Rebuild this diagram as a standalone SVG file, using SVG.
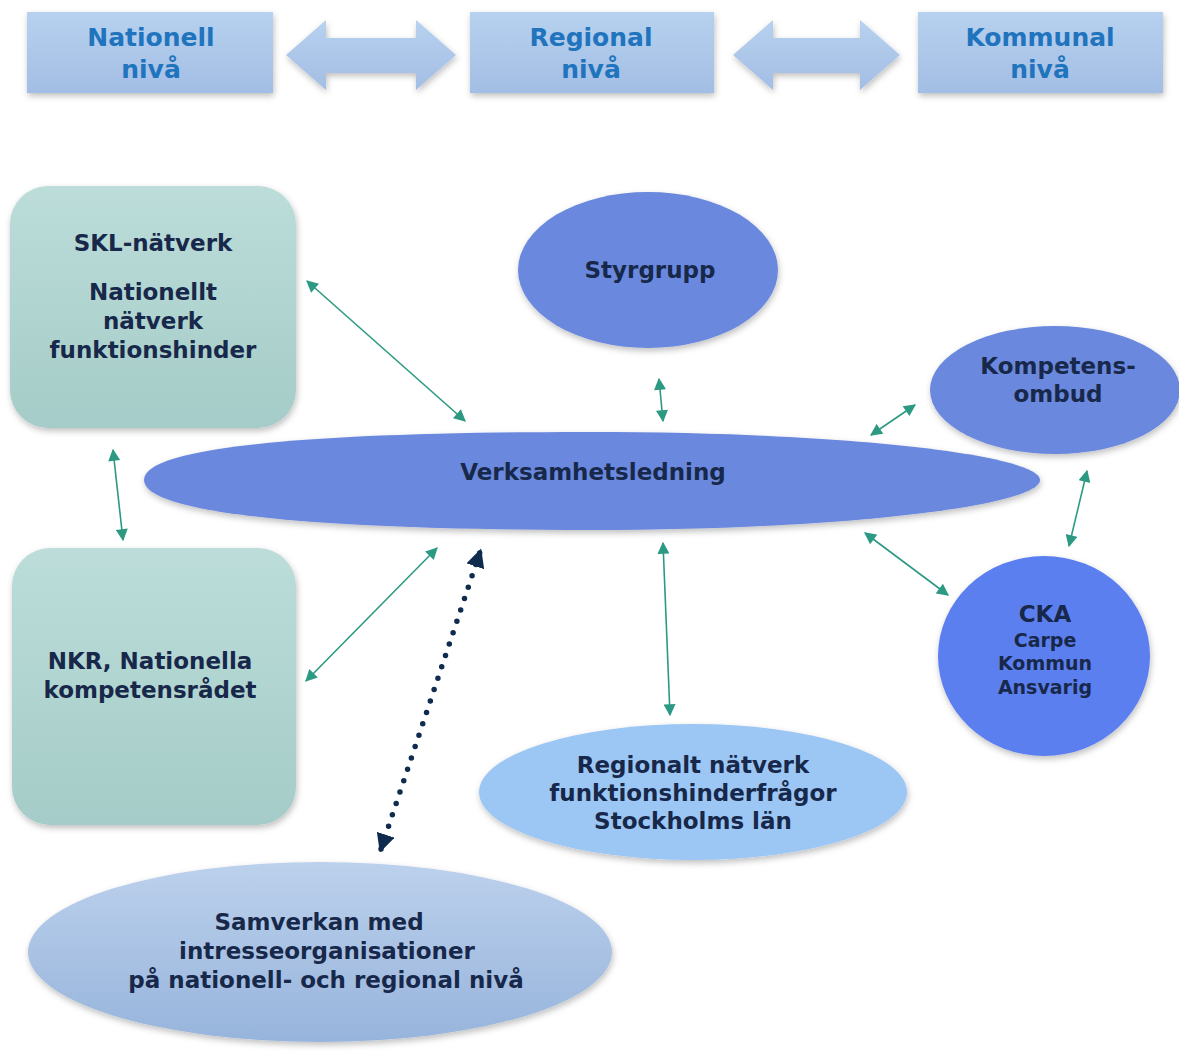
<svg xmlns="http://www.w3.org/2000/svg" width="1179" height="1051" viewBox="0 0 1179 1051">
<style>
  text { font-family: "DejaVu Sans", Verdana, sans-serif; font-weight: bold; text-anchor: middle; }
  .lvl { fill: #1f74bd; font-size: 25px; }
  .lbl { fill: #17284a; font-size: 23px; }
  .sm { fill: #17284a; font-size: 19px; }
  .con { stroke: #2c9a82; stroke-width: 1.6; fill: none; marker-start: url(#ta); marker-end: url(#ta); }
  .dot { stroke: #0f2b4d; stroke-width: 5.5; stroke-linecap: round; stroke-dasharray: 0 12; fill: none; marker-start: url(#da); marker-end: url(#da); }
</style>
<defs>
  <linearGradient id="gLvl" x1="0" y1="0" x2="0" y2="1">
    <stop offset="0" stop-color="#b7d1ef"/>
    <stop offset="1" stop-color="#a3bee4"/>
  </linearGradient>
  <linearGradient id="gTeal" x1="0" y1="0" x2="0" y2="1">
    <stop offset="0" stop-color="#bcddd9"/>
    <stop offset="1" stop-color="#a5ccc8"/>
  </linearGradient>
  <linearGradient id="gSam" x1="0" y1="0" x2="0" y2="1">
    <stop offset="0" stop-color="#bcd1ec"/>
    <stop offset="1" stop-color="#97b4dc"/>
  </linearGradient>
  <filter id="sh" x="-20%" y="-20%" width="140%" height="150%">
    <feDropShadow dx="1" dy="3" stdDeviation="3" flood-color="#000" flood-opacity="0.25"/>
  </filter>
  <marker id="ta" viewBox="0 0 10 10" refX="9" refY="5" markerWidth="13" markerHeight="12" markerUnits="userSpaceOnUse" orient="auto-start-reverse">
    <path d="M0,0 L10,5 L0,10 z" fill="#2c9a82"/>
  </marker>
  <marker id="da" viewBox="0 0 10 10" refX="8" refY="5" markerWidth="3.4" markerHeight="3.4" orient="auto-start-reverse">
    <path d="M0,0 L10,5 L0,10 z" fill="#0f2b4d"/>
  </marker>
</defs>

<g id="level-nationell">
  <rect x="27" y="12" width="246" height="81" fill="url(#gLvl)" filter="url(#sh)"/>
  <text class="lvl" x="151" y="46">Nationell</text>
  <text class="lvl" x="151" y="78">nivå</text>
</g>
<g id="level-regional">
  <rect x="470" y="12" width="244" height="81" fill="url(#gLvl)" filter="url(#sh)"/>
  <text class="lvl" x="591" y="46">Regional</text>
  <text class="lvl" x="591" y="78">nivå</text>
</g>
<g id="level-kommunal">
  <rect x="918" y="12" width="245" height="81" fill="url(#gLvl)" filter="url(#sh)"/>
  <text class="lvl" x="1040" y="46">Kommunal</text>
  <text class="lvl" x="1040" y="78">nivå</text>
</g>
<g id="level-arrows" fill="url(#gLvl)" filter="url(#sh)">
  <path d="M286,55 L326,20 L326,38 L416,38 L416,20 L456,55 L416,90 L416,73 L326,73 L326,90 Z"/>
  <path d="M733,55 L773,20 L773,38 L860,38 L860,20 L900,55 L860,90 L860,73 L773,73 L773,90 Z"/>
</g>

<g id="skl">
  <rect x="10" y="186" width="286" height="242" rx="38" fill="url(#gTeal)" filter="url(#sh)"/>
  <text class="lbl" x="153" y="251">SKL-nätverk</text>
  <text class="lbl" x="153" y="300">Nationellt</text>
  <text class="lbl" x="153" y="329">nätverk</text>
  <text class="lbl" x="153" y="358">funktionshinder</text>
</g>
<g id="nkr">
  <rect x="12" y="548" width="284" height="277" rx="38" fill="url(#gTeal)" filter="url(#sh)"/>
  <text class="lbl" x="150" y="669">NKR, Nationella</text>
  <text class="lbl" x="150" y="698">kompetensrådet</text>
</g>
<g id="styrgrupp">
  <ellipse cx="648" cy="270" rx="130" ry="78" fill="#6b88dd" filter="url(#sh)"/>
  <text class="lbl" x="650" y="278">Styrgrupp</text>
</g>
<g id="verksamhetsledning">
  <path d="M144,480 C144,445 330,432 590,432 C850,432 1040,455 1040,480 C1040,505 850,530 590,530 C330,530 144,515 144,480 Z" fill="#6b88dd" filter="url(#sh)"/>
  <text class="lbl" x="593" y="480">Verksamhetsledning</text>
</g>
<g id="kompetensombud">
  <ellipse cx="1055" cy="390" rx="125" ry="64" fill="#6b88dd" filter="url(#sh)"/>
  <text class="lbl" x="1058" y="374">Kompetens-</text>
  <text class="lbl" x="1058" y="402">ombud</text>
</g>
<g id="cka">
  <ellipse cx="1044" cy="656" rx="106" ry="100" fill="#5b7ff0" filter="url(#sh)"/>
  <text class="lbl" x="1045" y="622">CKA</text>
  <text class="sm" x="1045" y="647">Carpe</text>
  <text class="sm" x="1045" y="670">Kommun</text>
  <text class="sm" x="1045" y="694">Ansvarig</text>
</g>
<g id="regionalt">
  <ellipse cx="693" cy="792" rx="214" ry="68" fill="#9cc7f4" filter="url(#sh)"/>
  <text class="lbl" x="693" y="773">Regionalt nätverk</text>
  <text class="lbl" x="693" y="801">funktionshinderfrågor</text>
  <text class="lbl" x="693" y="829">Stockholms län</text>
</g>
<g id="samverkan">
  <ellipse cx="320" cy="952" rx="292" ry="90" fill="url(#gSam)" filter="url(#sh)"/>
  <text class="lbl" x="319" y="930">Samverkan med</text>
  <text class="lbl" x="327" y="959">intresseorganisationer</text>
  <text class="lbl" x="326" y="988">på nationell- och regional nivå</text>
</g>

<g id="connectors">
  <line class="con" x1="307" y1="281" x2="465" y2="421"/>
  <line class="con" x1="659" y1="379" x2="663" y2="421"/>
  <line class="con" x1="915" y1="405" x2="871" y2="435"/>
  <line class="con" x1="113" y1="450" x2="123" y2="540"/>
  <line class="con" x1="306" y1="681" x2="437" y2="548"/>
  <line class="con" x1="663" y1="543" x2="670" y2="715"/>
  <line class="con" x1="865" y1="533" x2="948" y2="595"/>
  <line class="con" x1="1087" y1="471" x2="1069" y2="546"/>
  <line class="dot" x1="381" y1="849" x2="480" y2="552"/>
</g>
</svg>
